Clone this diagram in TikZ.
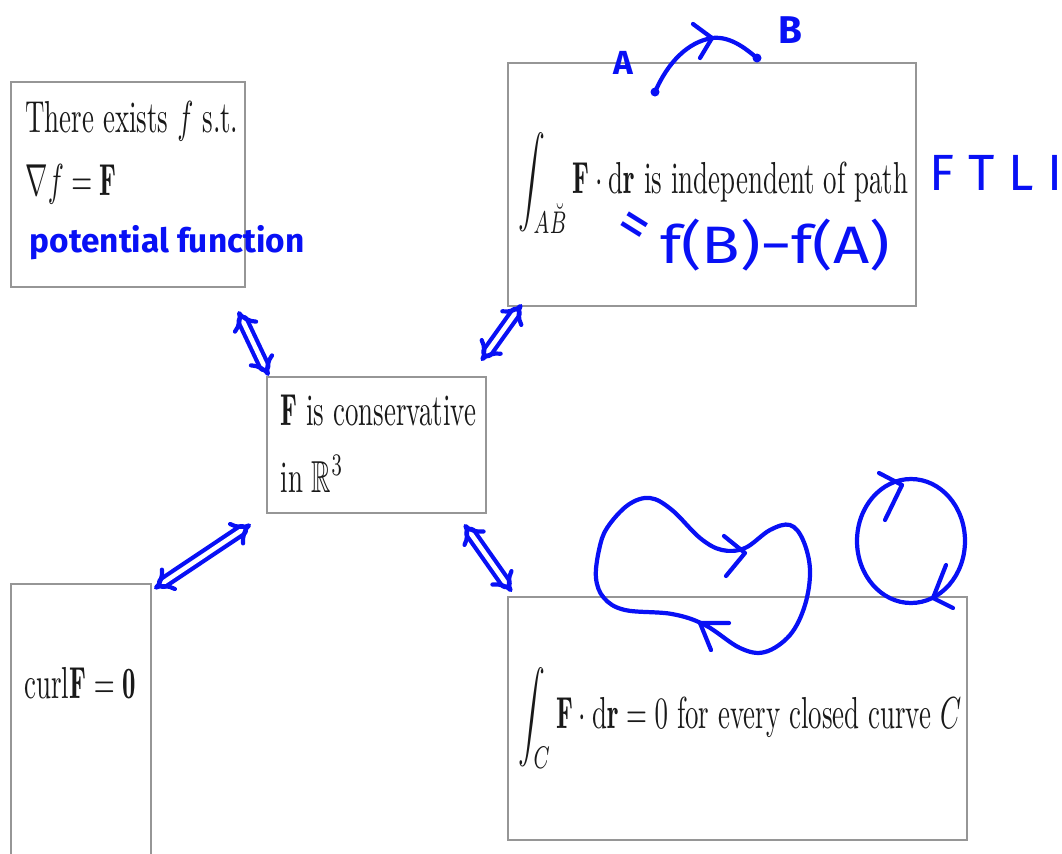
\documentclass[tikz,border=0pt]{standalone}
\usepackage{amsmath,amssymb}
\usepackage{fontspec}
\newfontfamily\handfont{Fira Sans}
\usetikzlibrary{arrows.meta,fit,calc}

\definecolor{ink}{RGB}{8,16,245}
\definecolor{boxgray}{RGB}{150,150,150}

\tikzset{
  stmt/.style={draw=boxgray, line width=1.4pt, inner sep=0pt},
  txt/.style={anchor=base west, inner sep=0pt, text=black!90,
    font=\fontsize{10}{12}\selectfont, xscale=1.53, yscale=2.55},
  hand/.style={text=ink, inner sep=0pt, font=\handfont\fontsize{#1}{#1}\selectfont},
  pen/.style={ink, line width=2.4pt, line cap=round, line join=round},
  iff/.style={pen, double=white, double distance=2.6pt,
    {Implies[length=7pt, width=18pt]}-{Implies[length=7pt, width=18pt]}},
}

\begin{document}
\begin{tikzpicture}[x=0.02cm, y=-0.02cm]
\useasboundingbox (0,0) rectangle (1062,853);
\clip (0,0) rectangle (1062,853);

% statement boxes
\node[stmt, fit={(11,82) (245,287)}] (pot) {};
\node[stmt, fit={(508,63) (916,306)}] (path) {};
\node[stmt, fit={(267,377) (486,513)}] (cons) {};
\node[stmt, fit={(11,584) (151,880)}] (curl) {};
\node[stmt, fit={(508,597) (967,840)}] (loop) {};

\node[txt] (pot1) at (25,132) {There exists $f$ s.t.};
\node[txt] (pot2) at (25,195) {$\nabla f=\mathbf{F}$};
\node[txt] (cons1) at (280,425) {$\mathbf{F}$ is conservative};
\node[txt] (cons2) at (280,492) {in $\mathbb{R}^3$};
\node[txt] (curl1) at (24,698) {curl$\mathbf{F}=\mathbf{0}$};
\node[txt] (path1) at (518,193) {$\displaystyle\int_{A\breve{B}}\mathbf{F}\cdot\mathrm{d}\mathbf{r}$ is independent of path};
\node[txt] (loop1) at (518,728) {$\displaystyle\int_{C}\mathbf{F}\cdot\mathrm{d}\mathbf{r}=0$ for every closed curve $C$};

% pen notes
\node[hand=19] (potnote) at (167,243) {\bfseries potential function};
\node[hand=19] (ptA) at (623,63) {\bfseries A};
\node[hand=22] (ptB) at (790,30) {\bfseries B};
\node[hand=34, rotate=-32] (eq) at (632,230) {=};
\node[hand=30, xscale=1.2] (diff) at (775,245) {f(B)−f(A)};
\node[hand=29] (thm) at (996,173) {F T L I};

% path from A to B
\coordinate (A0) at (655,92);
\coordinate (B0) at (757,58);
\draw[pen] (A0) .. controls (668,62) and (688,42) .. (712,38) .. controls (730,36) and (745,48) .. (B0);
\draw[pen] (693,24) -- (712,38) -- (700,58);
\fill[ink] (A0) circle[radius=0.09cm];
\fill[ink] (B0) circle[radius=0.09cm];

% equivalences
\draw[iff] ($(pot.south east)+(-8,23)$) -- ($(cons.north west)+(3,0)$);
\draw[iff] ($(path.south west)+(15,-3)$) -- ($(cons.north east)+(-6,-15)$);
\draw[iff] ($(cons.south west)+(-15,10)$) -- ($(curl.north east)+(2,6)$);
\draw[iff] ($(cons.south east)+(-23,10)$) -- ($(loop.north west)+(5,-4)$);

% closed curves
\draw[pen] plot[smooth cycle, tension=0.6] coordinates {(599,550) (607,528) (628,505) (650,498) (672,510) (700,538) (722,550) (745,548) (770,530) (790,525) (803,540) (810,570) (805,605) (790,635) (765,652) (740,648) (705,625) (672,614) (625,610) (604,598) (596,578)};
\draw[pen] (724,536) -- (745,553) -- (726,576);
\draw[pen] (729,623) -- (700,623) -- (711,650);
\draw[pen] (911,541) ellipse [x radius=1.08cm, y radius=1.24cm];
\draw[pen] (879,473) -- (902,485) -- (885,520);
\draw[pen] (946,565) -- (933,598) -- (953,608);
\end{tikzpicture}
\end{document}
